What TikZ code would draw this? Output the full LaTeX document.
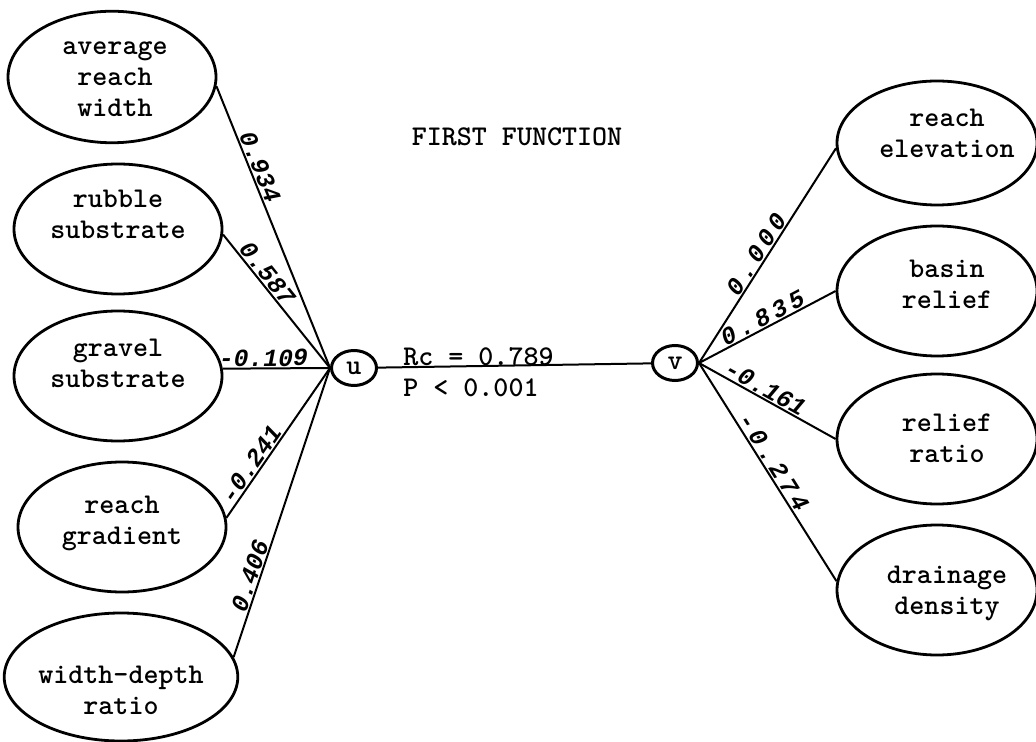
\documentclass[tikz,border=0pt]{standalone}
\usepackage{fontspec}
\usetikzlibrary{shapes.geometric}
\newfontfamily\numfam{Liberation Mono}
\newfontfamily\widenum{Liberation Mono}[LetterSpace=18]
\newfontfamily\darktt{Latin Modern Mono Light}
\newcommand\mytt{\fontsize{14.3}{15.5}\selectfont\darktt\bfseries}
\newcommand\mynum{\fontsize{12.3}{13}\selectfont\numfam\bfseries\itshape}
\newcommand\mywide{\fontsize{12.3}{13}\selectfont\widenum\bfseries\itshape}
% shift the text inside a node without changing the node's outline
\newcommand\shifted[3]{\raisebox{#2}[\height][\depth]{\kern#1\begin{tabular}{@{}c@{}}#3\end{tabular}\kern-#1}}
\begin{document}
\begin{tikzpicture}[x=0.5pt,y=-0.5pt,
  var/.style={ellipse,draw,line width=1.4pt,minimum width=104pt,minimum height=65pt,inner sep=0pt,align=center,font=\mytt},
  rvar/.style={var,minimum width=100pt},
  canon/.style={ellipse,draw,line width=1.5pt,minimum width=22.5pt,minimum height=17.5pt,inner sep=0pt,font=\mytt},
  link/.style={line width=1pt},
  wt/.style={font=\mynum,sloped,above,inner sep=0.5pt},
  wtw/.style={wt,font=\mywide},
  txt/.style={font=\mytt,inner sep=0pt}]
\useasboundingbox (0,0) rectangle (1036,742);
% left variables
\node[var,minimum height=63pt] (a1) at (112,77) {\shifted{1.5pt}{-1pt}{average\\reach\\width}};
\node[var] (a2) at (118,229) {\shifted{0pt}{6pt}{rubble\\substrate}};
\node[var] (a3) at (118,376) {\shifted{0pt}{5pt}{gravel\\substrate}};
\node[var] (a4) at (122,527) {\shifted{0pt}{2pt}{reach\\gradient}};
\node[var,minimum width=106pt,minimum height=64pt] (a5) at (121,677) {\shifted{0pt}{-8pt}{width-depth\\ratio}};
% right variables
\node[rvar,minimum height=62pt] (b1) at (937,143) {\shifted{5pt}{3.5pt}{reach\\elevation}};
\node[rvar] (b2) at (937,291) {\shifted{5pt}{2pt}{basin\\relief}};
\node[rvar] (b3) at (937,439) {\shifted{5pt}{-1pt}{relief\\ratio}};
\node[rvar] (b4) at (937,590) {\shifted{5pt}{-1.5pt}{drainage\\density}};
% canonical variates
\node[canon] (u) at (354,368) {u};
\node[canon] (v) at (675,363) {v};
% titles
\node[txt] (title) at (517,137) {FIRST FUNCTION};
\node[txt,anchor=west,align=left] (stat) at (403,372) {Rc = 0.789\\P < 0.001};
% connectors
\draw[link] (a1.-5) -- node[wt,pos=.30]{0.934} (u.west);
\draw[link] (a2.-3) -- node[wt,pos=.34]{0.587} (u.west);
\draw[link] (a3.4) -- node[wt,pos=.38]{-0.109} (u.west);
\draw[link] (a4.5) -- node[wt,pos=.32]{-0.241} (u.west);
\draw[link] (a5.10) -- node[wt,pos=.27]{0.406} (u.west);
\draw[link] (u) -- (v);
\draw[link] (v.east) -- node[wtw,pos=.48]{0.000} (b1.183);
\draw[link] (v.east) -- node[wtw,pos=.50]{0.835} (b2.west);
\draw[link] (v.east) -- node[wt,pos=.45]{-0.161} (b3.west);
\draw[link] (v.east) -- node[wtw,pos=.48]{-0.274} (b4.175);
\end{tikzpicture}
\end{document}
